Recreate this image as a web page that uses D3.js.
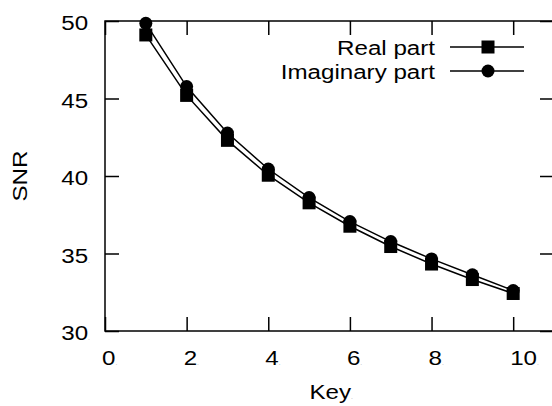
<!DOCTYPE html>
<html>
<head>
<meta charset="utf-8">
<script src="https://cdn.jsdelivr.net/npm/d3@7"></script>
<style>
  body { margin: 0; background: #fff; }
  text { font-family: "Liberation Sans", Arial, sans-serif; fill: #000; }
</style>
</head>
<body>
<svg width="552" height="406"></svg>
<script>
const keys = [1, 2, 3, 4, 5, 6, 7, 8, 9, 10];
const realPart = [49.1, 45.2, 42.3, 40.05, 38.27, 36.76, 35.45, 34.32, 33.32, 32.42];
const imagPart = [49.85, 45.77, 42.77, 40.45, 38.61, 37.06, 35.77, 34.65, 33.63, 32.61];
const xTicks = [0, 2, 4, 6, 8, 10];
const yTicks = [30, 35, 40, 45, 50];
const seriesNames = ["Real part", "Imaginary part"];

const svg = d3.select('svg');
const plotL = 105, plotR = 554, plotT = 21, plotB = 331;
const stretch = 1.15;

const x = d3.scaleLinear().domain([0, 11]).range([plotL, plotR]);
const y = d3.scaleLinear().domain([30, 50]).range([plotB, plotT]);

// frame
svg.append('rect')
    .attr('x', plotL).attr('y', plotT)
    .attr('width', plotR - plotL).attr('height', plotB - plotT)
    .attr('fill', 'none').attr('stroke', '#000').attr('stroke-width', 1.5);

// ticks on all four sides, pointing inward
const tick = 14;
const axes = [
    [d3.axisBottom(x).tickValues(xTicks).tickSize(-tick), `translate(0,${plotB})`],
    [d3.axisTop(x).tickValues(xTicks).tickSize(-tick), `translate(0,${plotT})`],
    [d3.axisLeft(y).tickValues(yTicks).tickSize(-tick), `translate(${plotL},0)`],
    [d3.axisRight(y).tickValues(yTicks).tickSize(-tick), `translate(${plotR},0)`]
];
axes.forEach(([ax, tr]) => {
    const g = svg.append('g').attr('transform', tr).call(ax);
    g.select('.domain').remove();
    g.selectAll('line').attr('stroke', '#000').attr('stroke-width', 1.5);
    g.selectAll('text').remove();
});

function label(px, py, str, anchor) {
    const t = svg.append('text')
        .attr('transform', `translate(${px},${py}) scale(${stretch},1)`)
        .attr('text-anchor', anchor)
        .attr('font-size', 21)
        .text(str);
    t.append('tspan').attr('font-size', 6).style('fill', '#999').text('.');
    return t;
}

yTicks.forEach(v => label(90, y(v) + 9, v, 'end'));
xTicks.forEach(v => label(x(v) - 3, 365, v, 'start'));
label((plotL + plotR) / 2 - 20, 399, 'Key', 'start');

svg.append('text')
    .attr('transform', `translate(27,${(plotT + plotB) / 2}) rotate(-90) scale(${stretch},1)`)
    .attr('text-anchor', 'middle')
    .attr('font-size', 21)
    .text('SNR');

// series
const line = d3.line().x(d => x(d[0])).y(d => y(d[1]));
const series = [realPart, imagPart].map(vals => keys.map((k, i) => [k, vals[i]]));

series.forEach(pts => {
    svg.append('path')
        .datum(pts)
        .attr('d', line)
        .attr('fill', 'none')
        .attr('stroke', '#000')
        .attr('stroke-width', 1.5);
});

const ms = 13;
svg.append('g').selectAll('rect')
    .data(series[0]).enter().append('rect')
    .attr('x', d => x(d[0]) - ms / 2).attr('y', d => y(d[1]) - ms / 2)
    .attr('width', ms).attr('height', ms).attr('fill', '#000');
svg.append('g').selectAll('circle')
    .data(series[1]).enter().append('circle')
    .attr('cx', d => x(d[0])).attr('cy', d => y(d[1]))
    .attr('r', ms / 2).attr('fill', '#000');

// legend
const legY = [47, 71];
seriesNames.forEach((name, i) => {
    svg.append('text')
        .attr('transform', `translate(435,${legY[i] + 7.5}) scale(${stretch},1)`)
        .attr('text-anchor', 'end')
        .attr('font-size', 21)
        .text(name);
    svg.append('line')
        .attr('x1', 450).attr('x2', 524)
        .attr('y1', legY[i]).attr('y2', legY[i])
        .attr('stroke', '#000').attr('stroke-width', 1.5);
    if (i === 0) {
        svg.append('rect').attr('x', 488 - ms / 2).attr('y', legY[i] - ms / 2)
            .attr('width', ms).attr('height', ms).attr('fill', '#000');
    } else {
        svg.append('circle').attr('cx', 488).attr('cy', legY[i])
            .attr('r', ms / 2).attr('fill', '#000');
    }
});
</script>
</body>
</html>
